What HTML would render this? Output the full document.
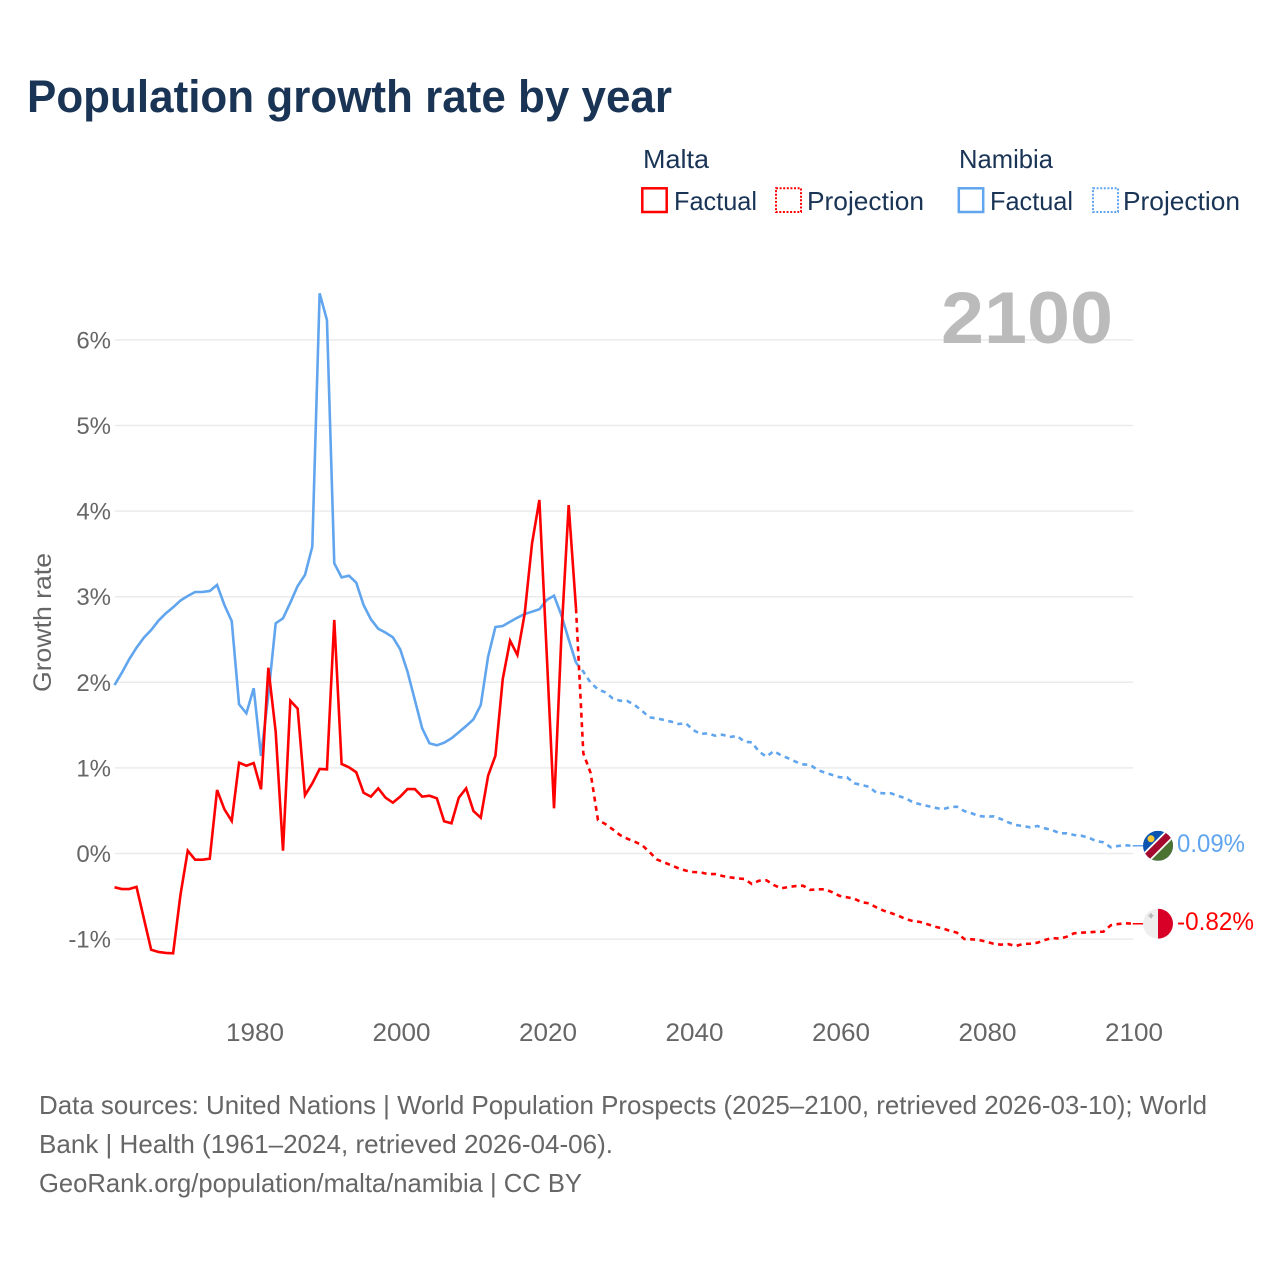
<!DOCTYPE html>
<html lang="en">
<head>
<meta charset="utf-8">
<title>Population growth rate by year</title>
<style>
  html, body { margin: 0; padding: 0; background: #fff; }
  svg { display: block; }
  text { font-family: "Liberation Sans", sans-serif; }
</style>
</head>
<body>
<svg id="chart" xmlns="http://www.w3.org/2000/svg" width="1280" height="1280" viewBox="0 0 1280 1280">
  <rect x="0" y="0" width="1280" height="1280" fill="#ffffff"/>
  <text x="27" y="112" font-size="45" font-weight="700" fill="#1a3455" textLength="645" lengthAdjust="spacingAndGlyphs">Population growth rate by year</text>

  <g font-size="26" fill="#1a3455">
    <text x="643" y="168" textLength="66" lengthAdjust="spacingAndGlyphs">Malta</text>
    <text x="959" y="168" textLength="94" lengthAdjust="spacingAndGlyphs">Namibia</text>
    <rect x="642.300" y="188.300" width="24.400" height="23.700" fill="none" stroke="#ff0000" stroke-width="2.500"/>
    <text x="674" y="210" textLength="83" lengthAdjust="spacingAndGlyphs">Factual</text>
    <rect x="776" y="188.300" width="25" height="23.700" fill="none" stroke="#ff0000" stroke-width="2" stroke-dasharray="2 1.600"/>
    <text x="807" y="210" textLength="117" lengthAdjust="spacingAndGlyphs">Projection</text>
    <rect x="958.800" y="188.300" width="24.400" height="23.700" fill="none" stroke="#60a5ee" stroke-width="2.500"/>
    <text x="990" y="210" textLength="83" lengthAdjust="spacingAndGlyphs">Factual</text>
    <rect x="1093" y="188.300" width="25" height="23.700" fill="none" stroke="#60a5ee" stroke-width="2" stroke-dasharray="2 1.600"/>
    <text x="1123" y="210" textLength="117" lengthAdjust="spacingAndGlyphs">Projection</text>
  </g>

  <g id="grid"></g>
  <g id="y-axis"></g>
  <g id="x-axis"></g>
  <text transform="translate(51 622.500) rotate(-90)" text-anchor="middle" font-size="25" fill="#666666" textLength="139" lengthAdjust="spacingAndGlyphs">Growth rate</text>
  <text x="941" y="343" font-size="73" font-weight="700" fill="#bbbbbb" textLength="172" lengthAdjust="spacingAndGlyphs">2100</text>

  <g id="series"></g>

  <defs>
    <clipPath id="flag-clip"><circle cx="0" cy="0" r="15"/></clipPath>
  </defs>
  <g id="flag-namibia">
    <g clip-path="url(#flag-clip)">
      <rect x="-15" y="-15" width="30" height="30" fill="#0b55b0"/>
      <polygon points="15,-15 15,15 -15,15" fill="#4c7232"/>
      <polygon points="-22.500,15 15,-22.500 22.500,-15 -15,22.500" fill="#ffffff"/>
      <polygon points="-20,15 15,-20 20,-15 -15,20" fill="#a50a2e"/>
      <circle cx="-7" cy="-7" r="3.500" fill="#f5c935"/>
    </g>
  </g>
  <g id="flag-malta">
    <g clip-path="url(#flag-clip)">
      <rect x="-15" y="-15" width="15" height="30" fill="#eeeeee"/>
      <rect x="0" y="-15" width="15" height="30" fill="#d80027"/>
      <path d="M-7 -10.500v5M-9.500 -8h5" stroke="#b5b5b5" stroke-width="1.800" fill="none"/>
    </g>
  </g>
  <text id="label-namibia" x="1177" font-size="25" fill="#60a5ee" textLength="68" lengthAdjust="spacingAndGlyphs">0.09%</text>
  <text id="label-malta" x="1177" font-size="25" fill="#ff0000" textLength="77" lengthAdjust="spacingAndGlyphs">-0.82%</text>

  <g font-size="26" fill="#666666">
    <text x="39" y="1114" textLength="1168" lengthAdjust="spacingAndGlyphs">Data sources: United Nations | World Population Prospects (2025–2100, retrieved 2026-03-10); World</text>
    <text x="39" y="1153" textLength="574" lengthAdjust="spacingAndGlyphs">Bank | Health (1961–2024, retrieved 2026-04-06).</text>
    <text x="39" y="1192" textLength="543" lengthAdjust="spacingAndGlyphs">GeoRank.org/population/malta/namibia | CC BY</text>
  </g>
</svg>

<script>
const factualStartYear = 1961;
const projectionStartYear = 2025;
const xTickYears = [1980, 2000, 2020, 2040, 2060, 2080, 2100];
const yTickValues = [-1, 0, 1, 2, 3, 4, 5, 6];
const yTickLabels = ['-1%', '0%', '1%', '2%', '3%', '4%', '5%', '6%'];

const maltaFactual = [
  -0.395, -0.415, -0.415, -0.39, -0.757, -1.124, -1.15, -1.162, -1.166, -0.484,
  0.033, -0.072, -0.072, -0.061, 0.742, 0.516, 0.38, 1.061, 1.026, 1.057,
  0.75, 2.17, 1.423, 0.033, 1.785, 1.692, 0.68, 0.82, 0.987, 0.983,
  2.728, 1.046, 1.007, 0.949, 0.71, 0.664, 0.761, 0.652, 0.594, 0.664,
  0.753, 0.753, 0.664, 0.675, 0.645, 0.376, 0.353, 0.652, 0.761, 0.496,
  0.418, 0.909, 1.143, 2.039, 2.486, 2.319, 2.806, 3.624, 4.13, 2.339,
  0.528, 2.533, 4.07, 2.864
];
const maltaProjection = [
  1.17, 0.94, 0.39, 0.345, 0.283, 0.216, 0.173, 0.138, 0.1, 0.021,
  -0.068, -0.103, -0.138, -0.173, -0.2, -0.216, -0.22, -0.24, -0.24, -0.263,
  -0.278, -0.29, -0.298, -0.356, -0.318, -0.313, -0.368, -0.407, -0.391, -0.38,
  -0.376, -0.426, -0.418, -0.418, -0.453, -0.496, -0.512, -0.528, -0.57, -0.582,
  -0.629, -0.668, -0.695, -0.727, -0.765, -0.789, -0.8, -0.827, -0.855, -0.874,
  -0.902, -0.925, -0.999, -1.002, -1.01, -1.03, -1.054, -1.065, -1.058, -1.081,
  -1.057, -1.054, -1.042, -1.01, -0.987, -0.995, -0.972, -0.932, -0.925, -0.921,
  -0.914, -0.914, -0.839, -0.824, -0.815, -0.82
];
const namibiaFactual = [
  1.968, 2.112, 2.269, 2.404, 2.521, 2.611, 2.72, 2.806, 2.876, 2.955,
  3.008, 3.055, 3.055, 3.067, 3.137, 2.903, 2.715, 1.743, 1.638, 1.93,
  1.139, 1.85, 2.689, 2.748, 2.93, 3.125, 3.254, 3.584, 6.544, 6.232,
  3.39, 3.226, 3.245, 3.164, 2.903, 2.736, 2.626, 2.58, 2.526, 2.385,
  2.124, 1.793, 1.463, 1.287, 1.264, 1.294, 1.346, 1.416, 1.489, 1.568,
  1.735, 2.299, 2.646, 2.658, 2.708, 2.755, 2.798, 2.825, 2.853, 2.961,
  3.012, 2.786, 2.502, 2.229
];
const namibiaProjection = [
  2.124, 1.995, 1.918, 1.883, 1.813, 1.785, 1.782, 1.735, 1.668, 1.591,
  1.579, 1.56, 1.54, 1.513, 1.521, 1.443, 1.396, 1.404, 1.376, 1.388,
  1.361, 1.373, 1.306, 1.299, 1.189, 1.131, 1.197, 1.147, 1.112, 1.072,
  1.042, 1.034, 0.975, 0.944, 0.917, 0.89, 0.89, 0.82, 0.8, 0.78,
  0.71, 0.703, 0.703, 0.672, 0.645, 0.598, 0.575, 0.555, 0.535, 0.516,
  0.54, 0.547, 0.496, 0.47, 0.438, 0.43, 0.434, 0.403, 0.364, 0.333,
  0.321, 0.306, 0.321, 0.294, 0.275, 0.236, 0.236, 0.216, 0.208, 0.185,
  0.146, 0.131, 0.072, 0.088, 0.096, 0.09
];

const SVG_NS = 'http://www.w3.org/2000/svg';
const plotLeft = 115;
const plotRight = 1133;

function xScale(year) {
  return 253.7 + (year - 1980) * 7.325;
}
function yScale(value) {
  return 853.5 - value * 85.6;
}
function linePath(startYear, values) {
  let d = '';
  for (let i = 0; i < values.length; i++) {
    d += (i === 0 ? 'M' : 'L') + xScale(startYear + i).toFixed(2) + ' ' + yScale(values[i]).toFixed(2);
  }
  return d;
}

const gridGroup = document.getElementById('grid');
const yAxisGroup = document.getElementById('y-axis');
const xAxisGroup = document.getElementById('x-axis');
const seriesGroup = document.getElementById('series');

yTickValues.forEach(function (value, i) {
  const line = document.createElementNS(SVG_NS, 'line');
  
  
  line.setAttribute('x1', plotLeft);
  line.setAttribute('x2', plotRight);
  line.setAttribute('y1', yScale(value));
  line.setAttribute('y2', yScale(value));
  line.setAttribute('stroke', '#ebebeb');
  line.setAttribute('stroke-width', '1.5');
  gridGroup.appendChild(line);

  const label = document.createElementNS(SVG_NS, 'text');
  
  
  label.setAttribute('x', 111);
  label.setAttribute('y', yScale(value) + 8.5);
  label.setAttribute('text-anchor', 'end');
  label.setAttribute('font-size', '24');
  label.setAttribute('fill', '#666666');
  label.textContent = yTickLabels[i];
  yAxisGroup.appendChild(label);
});

xTickYears.forEach(function (year) {
  const label = document.createElementNS(SVG_NS, 'text');
  
  
  label.setAttribute('x', xScale(year) + 1.3);
  label.setAttribute('y', 1041);
  label.setAttribute('text-anchor', 'middle');
  label.setAttribute('font-size', '25');
  label.setAttribute('fill', '#666666');
  label.setAttribute('textLength', '58');
  label.setAttribute('lengthAdjust', 'spacingAndGlyphs');
  label.textContent = String(year);
  xAxisGroup.appendChild(label);
});

const lastFactualYear = factualStartYear + namibiaFactual.length - 1;
const namibiaFactualLast = namibiaFactual[namibiaFactual.length - 1];
const maltaFactualLast = maltaFactual[maltaFactual.length - 1];
const namibiaEnd = namibiaProjection[namibiaProjection.length - 1];
const maltaEnd = maltaProjection[maltaProjection.length - 1];
const endYear = projectionStartYear + namibiaProjection.length - 1;

const namibiaFactualLine = document.createElementNS(SVG_NS, 'path');


namibiaFactualLine.setAttribute('d', linePath(factualStartYear, namibiaFactual));
namibiaFactualLine.setAttribute('fill', 'none');
namibiaFactualLine.setAttribute('stroke', '#60a5ee');
namibiaFactualLine.setAttribute('stroke-width', '2.6');
seriesGroup.appendChild(namibiaFactualLine);

const namibiaProjectionLine = document.createElementNS(SVG_NS, 'path');


namibiaProjectionLine.setAttribute('d', linePath(lastFactualYear, [namibiaFactualLast].concat(namibiaProjection)));
namibiaProjectionLine.setAttribute('fill', 'none');
namibiaProjectionLine.setAttribute('stroke', '#60a5ee');
namibiaProjectionLine.setAttribute('stroke-width', '2.6');
namibiaProjectionLine.setAttribute('stroke-dasharray', '5 4.5');
seriesGroup.appendChild(namibiaProjectionLine);

const maltaFactualLine = document.createElementNS(SVG_NS, 'path');


maltaFactualLine.setAttribute('d', linePath(factualStartYear, maltaFactual));
maltaFactualLine.setAttribute('fill', 'none');
maltaFactualLine.setAttribute('stroke', '#ff0000');
maltaFactualLine.setAttribute('stroke-width', '2.6');
seriesGroup.appendChild(maltaFactualLine);

const maltaProjectionLine = document.createElementNS(SVG_NS, 'path');


maltaProjectionLine.setAttribute('d', linePath(lastFactualYear, [maltaFactualLast].concat(maltaProjection)));
maltaProjectionLine.setAttribute('fill', 'none');
maltaProjectionLine.setAttribute('stroke', '#ff0000');
maltaProjectionLine.setAttribute('stroke-width', '2.6');
maltaProjectionLine.setAttribute('stroke-dasharray', '5 4.5');
seriesGroup.appendChild(maltaProjectionLine);

const namibiaConnector = document.createElementNS(SVG_NS, 'line');


namibiaConnector.setAttribute('x1', xScale(endYear));
namibiaConnector.setAttribute('x2', xScale(endYear) + 24);
namibiaConnector.setAttribute('y1', yScale(namibiaEnd));
namibiaConnector.setAttribute('y2', yScale(namibiaEnd));
namibiaConnector.setAttribute('stroke', '#60a5ee');
namibiaConnector.setAttribute('stroke-width', '1.5');
seriesGroup.appendChild(namibiaConnector);

const maltaConnector = document.createElementNS(SVG_NS, 'line');


maltaConnector.setAttribute('x1', xScale(endYear));
maltaConnector.setAttribute('x2', xScale(endYear) + 24);
maltaConnector.setAttribute('y1', yScale(maltaEnd));
maltaConnector.setAttribute('y2', yScale(maltaEnd));
maltaConnector.setAttribute('stroke', '#ff0000');
maltaConnector.setAttribute('stroke-width', '1.5');
seriesGroup.appendChild(maltaConnector);

const flagX = xScale(endYear) + 25.3;
document.getElementById('flag-namibia').setAttribute('transform', 'translate(' + flagX + ' ' + yScale(namibiaEnd) + ')');
document.getElementById('flag-malta').setAttribute('transform', 'translate(' + flagX + ' ' + yScale(maltaEnd) + ')');
document.getElementById('label-namibia').setAttribute('y', yScale(namibiaEnd) + 6.2);
document.getElementById('label-malta').setAttribute('y', yScale(maltaEnd) + 6.2);
</script>
</body>
</html>
